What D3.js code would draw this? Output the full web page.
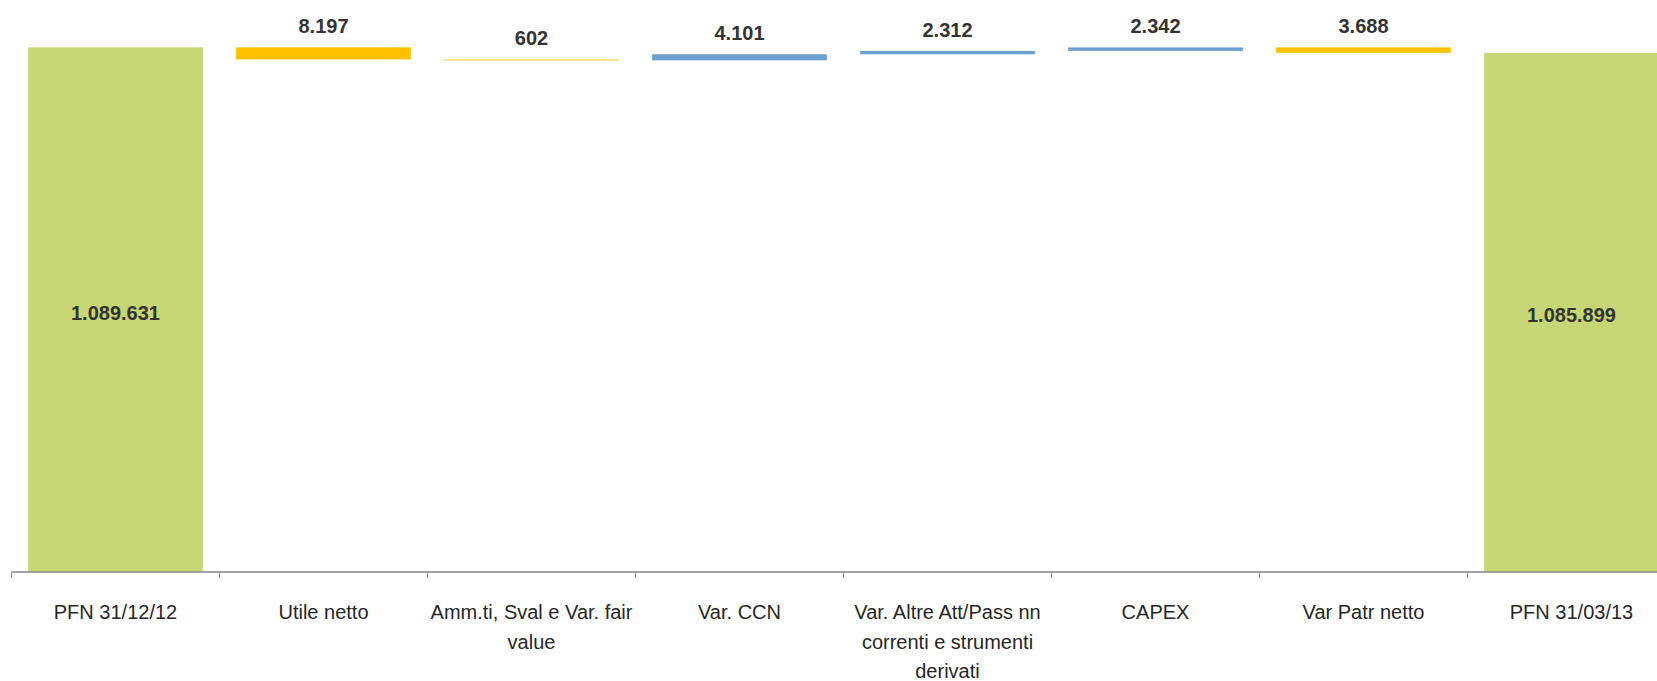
<!DOCTYPE html>
<html>
<head>
<meta charset="utf-8">
<script src="https://cdn.jsdelivr.net/npm/d3@7"></script>
<style>
  body { margin: 0; background: #fff; overflow: hidden; }
  svg { display: block; }
</style>
</head>
<body>
<svg id="svg"></svg>
<script>
const w = 1657;
const h = 681;

// data
const categories = [
  "PFN 31/12/12",
  "Utile netto",
  "Amm.ti, Sval e Var. fair\nvalue",
  "Var. CCN",
  "Var.  Altre Att/Pass nn\ncorrenti e strumenti\nderivati",
  "CAPEX",
  "Var Patr netto",
  "PFN 31/03/13"
];
const startValue = 1089631;
const deltas = [-8197, -602, 4101, 2312, 2342, -3688];
const endValue = 1085899;

const green = "#c7d775";
const yellow = "#ffc000";
const blue = "#6d9fd1";
const font = "'Liberation Sans Narrow', 'Arial Narrow', 'Liberation Sans', sans-serif";

const it = d3.formatLocale({ decimal: ",", thousands: ".", grouping: [3], currency: ["€", ""] });
const fmt = it.format(",d");

// build waterfall rows
let rows = [];
rows.push({ cat: categories[0], y0: 0, y1: startValue, total: true, value: startValue });
let running = startValue;
deltas.forEach((d, i) => {
  const next = running + d;
  rows.push({ cat: categories[i + 1], y0: Math.min(running, next), y1: Math.max(running, next), total: false, value: d });
  running = next;
});
rows.push({ cat: categories[categories.length - 1], y0: 0, y1: endValue, total: true, value: endValue });

let svg = d3.select("#svg").attr("width", w).attr("height", h);

// the last slot runs past the right edge, like the original
let xScale = d3.scaleBand()
  .domain(rows.map((d, i) => i))
  .range([11.5, 11.5 + 208 * rows.length])
  .paddingInner(0.16)
  .paddingOuter(0.08);

let yScale = d3.scaleLinear([735000, 1100000], [572, 32]);
const yBase = yScale.range()[0];

svg.selectAll("rect.bar")
  .data(rows)
  .join("rect")
  .attr("class", "bar")
  .attr("x", (d, i) => xScale(i))
  .attr("width", xScale.bandwidth())
  .attr("y", (d) => yScale(d.y1))
  .attr("height", (d) => (d.total ? yBase : yScale(d.y0)) - yScale(d.y1))
  .attr("fill", (d) => (d.total ? green : d.value < 0 ? yellow : blue));

// axis line + ticks between categories
const step = xScale.step();
const x0 = xScale.range()[0];
svg.append("line")
  .attr("x1", x0)
  .attr("x2", w)
  .attr("y1", yBase)
  .attr("y2", yBase)
  .attr("stroke", "#868686")
  .attr("stroke-width", 1.5);

svg.selectAll("line.tick")
  .data(d3.range(rows.length + 1))
  .join("line")
  .attr("class", "tick")
  .attr("x1", (i) => x0 + i * step)
  .attr("x2", (i) => x0 + i * step)
  .attr("y1", yBase)
  .attr("y2", yBase + 6)
  .attr("stroke", "#868686")
  .attr("stroke-width", 1);

// category labels
const catText = svg.selectAll("text.cat")
  .data(rows)
  .join("text")
  .attr("class", "cat")
  .attr("x", (d, i) => xScale(i) + xScale.bandwidth() / 2)
  .attr("y", yBase + 47)
  .attr("text-anchor", "middle")
  .attr("font-family", font)
  .attr("font-size", 20)
  .attr("fill", "#262626");

catText.each(function (d) {
  const t = d3.select(this);
  d.cat.split("\n").forEach((line, k) => {
    t.append("tspan")
      .attr("x", t.attr("x"))
      .attr("dy", k === 0 ? 0 : 29.5)
      .text(line);
  });
});

// value labels
svg.selectAll("text.val")
  .data(rows)
  .join("text")
  .attr("class", "val")
  .attr("x", (d, i) => xScale(i) + xScale.bandwidth() / 2)
  .attr("y", (d) => (d.total ? (yScale(d.y1) + yBase) / 2 + 10 : yScale(d.y1) - 14))
  .attr("text-anchor", "middle")
  .attr("font-family", font)
  .attr("font-weight", "bold")
  .attr("font-size", 20)
  .attr("fill", "#333333")
  .text((d) => fmt(Math.abs(d.value)));
</script>
</body>
</html>
